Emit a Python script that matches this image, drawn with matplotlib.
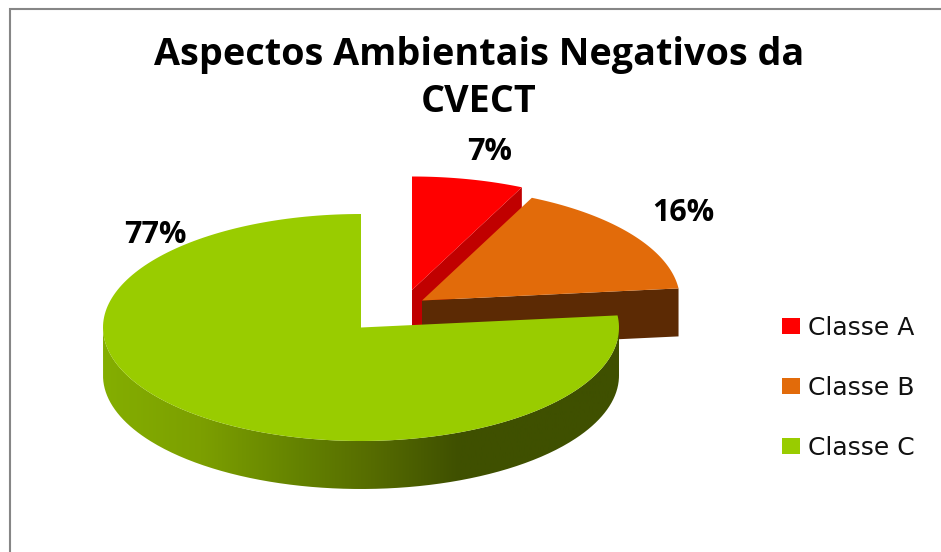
import numpy as np
import matplotlib
matplotlib.use('Agg')
import matplotlib.pyplot as plt
from matplotlib.colors import LinearSegmentedColormap
from matplotlib.patches import PathPatch, Rectangle
from matplotlib.path import Path

plt.rcParams['font.family'] = ['Open Sans', 'DejaVu Sans']

title = 'Aspectos Ambientais Negativos da\nCVECT'
categories = ['Classe A', 'Classe B', 'Classe C']
values = [7, 16.3, 76.7]
top_colors = ['#FF0000', '#E26B0A', '#99CC00']
cut_colors = ['#C00000', '#5C2A04']

# centro de cada fatia em pixels (pizza explodida)
centers = [(412, 290), (422, 300.5), (361, 327.5)]
label_pos = [(490, 152), (683, 213), (155, 235)]
rx, ry = 258, 113.5
depth = 48


def arco(cx, cy, a, b, n=200):
    t = np.radians(np.linspace(a, b, n))
    return cx + rx * np.sin(t), cy - ry * np.cos(t)


fig = plt.figure(figsize=(9.41, 5.52), dpi=100)
ax = fig.add_axes([0, 0, 1, 1])
ax.set_xlim(0, 941)
ax.set_ylim(552, 0)
ax.axis('off')

# moldura
ax.plot([10.5, 10.5, 941], [552, 9, 9], color='#868686', lw=1.5, solid_joinstyle='miter')

angs = np.cumsum([0] + values) * 3.6

# vermelho
cx, cy = centers[0]
x, y = arco(cx, cy, angs[0], angs[1])
ax.fill([cx, x[-1], x[-1], cx], [cy, y[-1], y[-1] + depth, cy + depth], color=cut_colors[0], lw=0)
ax.fill([cx, cx, cx + 10, cx + 10], [cy, cy + depth, cy + depth, cy], color=cut_colors[0], lw=0)
ax.fill(np.r_[cx, x], np.r_[cy, y], color=top_colors[0], lw=0)

# laranja
cx, cy = centers[1]
x, y = arco(cx, cy, angs[1], angs[2])
ax.fill([cx, x[-1], x[-1], cx], [cy, y[-1], y[-1] + depth, cy + depth], color=cut_colors[1], lw=0)
ax.fill(np.r_[cx, x], np.r_[cy, y], color=top_colors[1], lw=0)

# verde: lateral com gradiente
cx, cy = centers[2]
x, y = arco(cx, cy, angs[2], angs[3])
xs, ys = arco(cx, cy, 90, 270, 300)
verts = np.r_[[[cx + rx, cy + ry * np.cos(np.radians(180 - angs[2]))]],
              np.c_[xs, ys], np.c_[xs[::-1], ys[::-1] + depth]]
clip = PathPatch(Path(verts), fc='none', ec='none', transform=ax.transData)
ax.add_patch(clip)
cmap = LinearSegmentedColormap.from_list('lateral', [
    (0.0, '#84AE00'), (0.19, '#7C9F00'), (0.38, '#648200'), (0.52, '#566C00'),
    (0.69, '#3F5000'), (1.0, '#3F5000')])
im = ax.imshow(np.linspace(0, 1, 256).reshape(1, -1), cmap=cmap, aspect='auto',
               extent=[cx - rx, cx + rx, 552, 0], zorder=2)
im.set_clip_path(clip)
ax.set_xlim(0, 941)
ax.set_ylim(552, 0)
ax.fill(np.r_[cx, x], np.r_[cy, y], color=top_colors[2], lw=0, zorder=3)

# rótulos
for v, (lx, ly) in zip(values, label_pos):
    ax.text(lx, ly, '%.0f%%' % v, fontsize=22, fontweight='bold', ha='center', va='center', color='black', zorder=5)

ax.text(479, 78.5, title, fontsize=27.2, fontweight='bold', ha='center', va='center', linespacing=1.28, color='black')

# legenda
for i, (c, col) in enumerate(zip(categories, top_colors)):
    ly = 326 + i * 60
    ax.add_patch(Rectangle((782.5, ly - 8), 17.5, 16, fc=col, ec='none', zorder=5))
    ax.text(808, ly + 2, c, fontsize=18, family=['DejaVu Sans'], ha='left', va='center', color='#111111', zorder=5)

fig.savefig('out.png', dpi=100)
